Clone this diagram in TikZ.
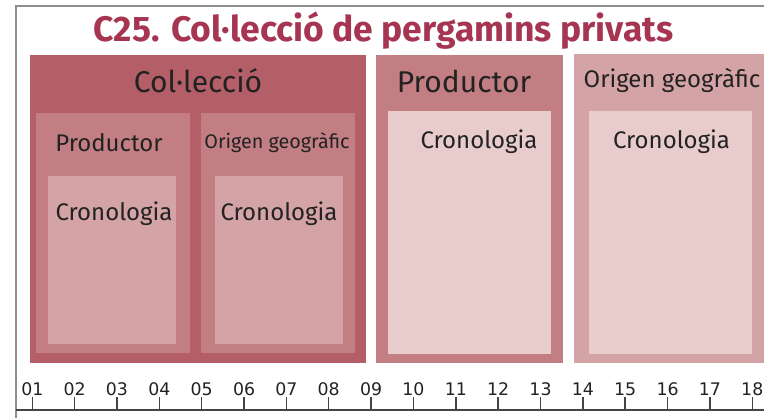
\documentclass[tikz,border=0pt]{standalone}
\usepackage{fontspec}
\setmainfont{Fira Sans}
\newfontfamily\axisfont{DejaVu Sans}
\usepackage{xcolor}
\definecolor{titlerose}{HTML}{A63552}
\definecolor{roseA}{HTML}{B45E68}
\definecolor{roseB}{HTML}{C37E83}
\definecolor{roseC}{HTML}{D4A3A5}
\definecolor{roseD}{HTML}{E8CCCB}
\definecolor{ink}{HTML}{222222}
\definecolor{framegrey}{HTML}{8E8E8E}
\definecolor{axisgrey}{HTML}{444444}
\usepackage{tikz}
\usetikzlibrary{positioning,calc}

\begin{document}
\begin{tikzpicture}[
  x=0.75pt, y=-0.75pt,
  frame/.style={draw=framegrey, line width=1.4pt},
  axis/.style={draw=axisgrey, line width=1.1pt},
  lbl/.style={anchor=base, text=ink, inner sep=0pt},
  big/.style={font=\fontsize{22.5}{26}\selectfont},
  mid/.style={font=\fontsize{18}{22}\selectfont},
  small/.style={font=\fontsize{14.8}{18}\selectfont},
  yearlbl/.style={anchor=base, text=ink, inner sep=0pt, font=\axisfont\fontsize{13}{15}\selectfont}
]
\useasboundingbox (0,0) rectangle (764,418);

% Frame
\draw[frame] (764,6) -- (16,6) -- (16,418);

% Title
\node[lbl, text=titlerose, font=\bfseries\fontsize{26.6}{30}\selectfont] (title) at (383.5,41.7)
  {C25. Col·lecció de pergamins privats};

% Col·lecció
\fill[roseA] (30,55) rectangle (366,363);
\node[lbl, big] (coll) at (198,92.7) {Col·lecció};

\fill[roseB] (36,112.7) rectangle (190,353.3);
\node[lbl, mid] (collprod) at (109,151.7) {Productor};
\fill[roseC] (48,176) rectangle (176,343.7);
\node[lbl, mid] (collprodcron) at (114,220) {Cronologia};

\fill[roseB] (201,112.7) rectangle (355,353.3);
\node[lbl, small] (collorig) at (277,148.3) {Origen geogràfic};
\fill[roseC] (215,176) rectangle (343,343.7);
\node[lbl, mid] (collorigcron) at (279,220) {Cronologia};

% Productor
\fill[roseB] (376,55) rectangle (563,363);
\node[lbl, big] (prod) at (464,92.5) {Productor};
\fill[roseD] (388,110.7) rectangle (551,353.7);
\node[lbl, mid] (prodcron) at (479,148) {Cronologia};

% Origen geogràfic
\fill[roseC] (574,54) rectangle (764,363);
\node[lbl, mid] (orig) at (672,87) {Origen geogràfic};
\fill[roseD] (589,110.7) rectangle (752,353.7);
\node[lbl, mid] (origcron) at (671.5,148) {Cronologia};

% Timeline
\draw[axis] (16,410) -- (764,410);
\foreach \n in {1,...,18}{
  \coordinate (t\n) at ({32.3+(\n-1)*42.35},410);
  \draw[axis] (t\n) -- ++(0,-13);
  \node[yearlbl] (y\n) at ($(t\n)+(0,-15)$) {\ifnum\n<10 0\fi\n};
}

\end{tikzpicture}
\end{document}
